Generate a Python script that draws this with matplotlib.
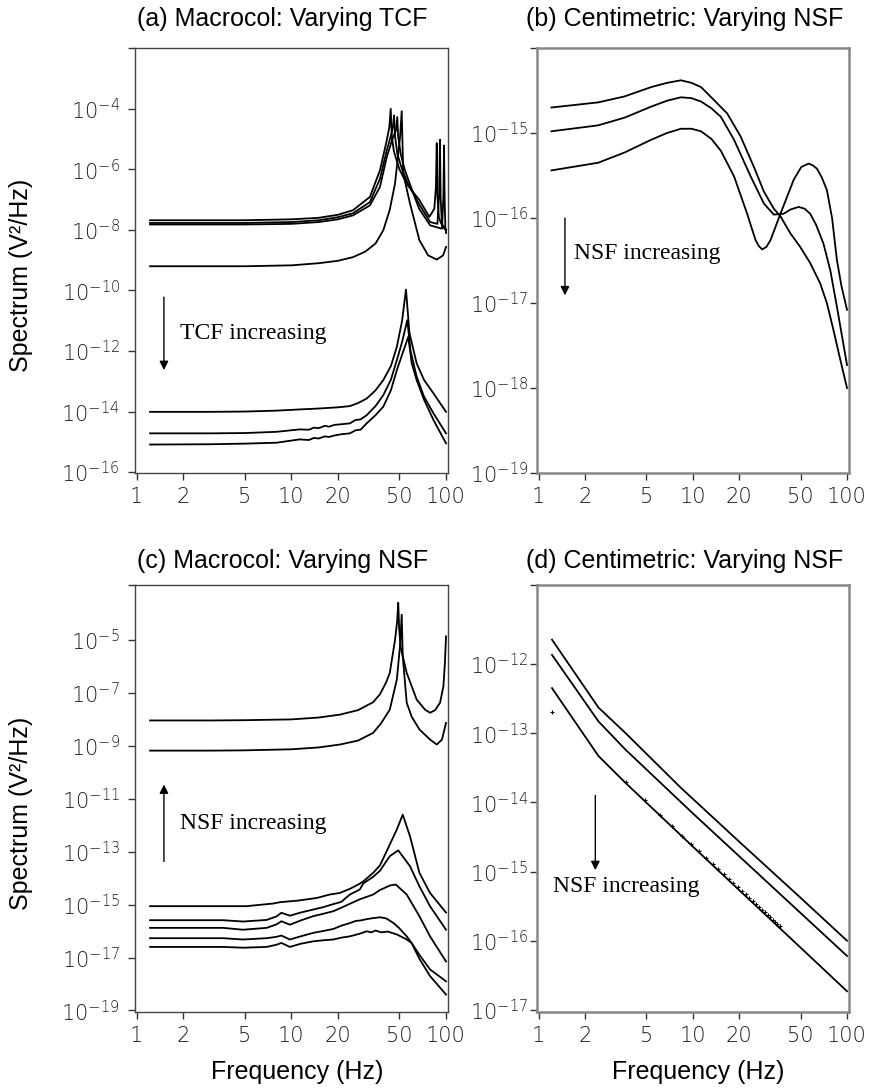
import numpy as np
import matplotlib.pyplot as plt

# ------------------------------
# Panel (a): Macrocol, varying TCF   (spectrum values are log10 V^2/Hz)
# ------------------------------
a_u1_f = [1.22, 3, 5, 10, 15, 20, 25, 32.2, 37.4, 41.4, 43.0, 43.9, 44.6, 46, 50, 56, 67, 78, 84, 86, 87.1, 88, 90, 95, 100]
a_u1_s = [-7.68, -7.68, -7.68, -7.65, -7.6, -7.5, -7.35, -6.91, -6.03, -5.04, -4.6, -4.0, -4.9, -5.4, -6.0, -6.5, -7.0, -7.57, -7.3, -6.6, -5.13, -6.9, -7.6, -7.9, -8.0]
a_u2_f = [1.22, 3, 5, 10, 15, 20, 25, 32.2, 37.4, 41.4, 44.5, 45.6, 46.1, 46.8, 48.5, 52, 57, 67, 79, 88, 90.3, 91.4, 92.3, 94, 100]
a_u2_s = [-7.77, -7.77, -7.77, -7.74, -7.68, -7.58, -7.45, -7.08, -6.31, -5.37, -4.8, -4.5, -4.22, -4.9, -5.5, -6.0, -6.5, -7.15, -7.74, -7.8, -6.8, -5.02, -6.9, -7.8, -8.0]
a_u3_f = [1.22, 3, 5, 10, 15, 20, 25, 32.2, 37.4, 41.4, 45, 47.5, 48.4, 49, 51, 54, 59, 67, 79, 94.2, 96.2, 97.1, 98, 99, 100]
a_u3_s = [-7.82, -7.82, -7.82, -7.8, -7.74, -7.65, -7.52, -7.19, -6.58, -5.59, -5.0, -4.7, -4.27, -4.9, -5.5, -6.0, -6.55, -7.3, -7.85, -7.96, -6.9, -5.21, -7.0, -7.9, -8.1]
a_u4_f = [1.22, 3, 5, 10, 15, 20, 25, 30, 35, 39.3, 43.2, 46.8, 49.1, 50.5, 51.7, 52.9, 58.5, 67.3, 76.6, 87.1, 95.8, 100]
a_u4_s = [-9.2, -9.2, -9.2, -9.17, -9.1, -9.02, -8.9, -8.72, -8.45, -8.01, -7.35, -6.47, -5.5, -4.9, -4.08, -6.14, -7.13, -8.34, -8.84, -8.98, -8.84, -8.56]

a_l1_f = [1.22, 3, 5, 8, 11.3, 15, 20, 23.9, 27, 30.7, 35, 39.3, 44, 48.1, 52, 55.1, 58, 64.6, 72, 83, 100]
a_l1_s = [-14.01, -14.01, -14.0, -13.97, -13.93, -13.9, -13.86, -13.82, -13.72, -13.57, -13.3, -12.96, -12.5, -11.86, -11.0, -9.97, -11.4, -12.41, -12.95, -13.40, -14.01]
a_l2_f = [1.22, 3, 5, 8, 11.3, 13, 14, 15, 16.5, 17.5, 19, 21, 23.9, 26, 28, 30.7, 35, 39.3, 44, 48.1, 52, 56.2, 59, 64.6, 72, 83, 100]
a_l2_s = [-14.72, -14.72, -14.71, -14.67, -14.59, -14.6, -14.53, -14.55, -14.47, -14.5, -14.44, -14.42, -14.39, -14.28, -14.26, -14.12, -13.82, -13.46, -12.95, -12.30, -11.7, -10.98, -12.0, -12.85, -13.5, -14.06, -14.72]
a_l3_f = [1.22, 3, 5, 8, 11.3, 13, 14, 15, 16.5, 17.5, 19, 21, 23.9, 26, 28, 30.7, 35, 39.3, 44, 48.1, 53, 57.0, 60, 64.6, 72, 83, 100]
a_l3_s = [-15.09, -15.08, -15.06, -15.03, -14.92, -14.94, -14.87, -14.89, -14.82, -14.84, -14.79, -14.75, -14.72, -14.62, -14.6, -14.39, -14.12, -13.84, -13.3, -12.63, -12.0, -11.53, -12.4, -12.96, -13.6, -14.28, -15.05]

# ------------------------------
# Panel (b): Centimetric, varying NSF
# ------------------------------
b_1_f = [1.21, 2.43, 3.6, 5.36, 6.8, 8.37, 9.8, 11.3, 13.5, 16.7, 20.4, 24.9, 28.9, 33.5, 37.0, 42.9, 49.7, 57.7, 67.0, 74, 81.7, 90, 100]
b_1_s = [-14.70, -14.64, -14.57, -14.46, -14.41, -14.38, -14.41, -14.46, -14.6, -14.77, -15.04, -15.40, -15.69, -15.89, -15.98, -16.18, -16.34, -16.53, -16.77, -17.0, -17.32, -17.65, -18.0]
b_2_f = [1.21, 2.43, 3.6, 5.36, 6.8, 8.37, 9.8, 11.3, 13.2, 15.2, 18.5, 23.7, 28.9, 33.5, 38.8, 43, 48.5, 53, 57.7, 63, 70.3, 78, 85.9, 100]
b_2_s = [-14.98, -14.91, -14.82, -14.69, -14.62, -14.58, -14.59, -14.63, -14.71, -14.81, -15.08, -15.51, -15.83, -15.96, -15.95, -15.9, -15.87, -15.89, -15.95, -16.08, -16.30, -16.62, -17.04, -17.73]
b_3_f = [1.21, 2.43, 3.6, 5.36, 6.8, 8.37, 9.8, 11.3, 13.2, 15.2, 18.5, 22.5, 25.5, 26.8, 28.2, 30, 31.9, 37.0, 45.1, 50.5, 56.3, 60, 63.8, 68.5, 74.0, 80, 85.9, 92, 100]
b_3_s = [-15.44, -15.35, -15.23, -15.08, -15.0, -14.95, -14.95, -14.98, -15.07, -15.21, -15.51, -15.95, -16.26, -16.33, -16.37, -16.34, -16.26, -15.95, -15.55, -15.40, -15.36, -15.38, -15.42, -15.52, -15.67, -16.0, -16.49, -16.8, -17.08]

# ------------------------------
# Panel (c): Macrocol, varying NSF
# ------------------------------
c_u1_f = [1.22, 3, 5, 10, 15, 20.6, 27, 33.8, 37.4, 41, 43.3, 46.8, 48.3, 49.1, 49.8, 51, 55.7, 64.6, 73.1, 78.8, 85, 91.5, 96.2, 98.3, 100]
c_u1_s = [-8.04, -8.04, -8.03, -8.0, -7.93, -7.82, -7.65, -7.35, -7.05, -6.6, -6.24, -5.0, -4.3, -3.59, -4.6, -5.3, -6.24, -7.25, -7.63, -7.75, -7.65, -7.37, -6.75, -5.9, -4.86]
c_u2_f = [1.22, 3, 5, 10, 15, 20.6, 27, 33.8, 38, 43.3, 48.1, 50.4, 51.7, 52.5, 55.7, 60, 67.3, 78.8, 87.1, 94.2, 100]
c_u2_s = [-9.18, -9.18, -9.17, -9.13, -9.06, -8.95, -8.8, -8.51, -8.15, -7.63, -6.49, -5.23, -4.04, -5.6, -7.37, -7.9, -8.38, -8.76, -8.95, -8.76, -8.13]

c_l1_f = [1.22, 3.62, 5.12, 7.63, 8.43, 11, 14.6, 17.7, 20.6, 24, 27.7, 29.2, 33.8, 37.4, 43.3, 48.1, 52.5, 58.5, 67.3, 78.8, 100]
c_l1_s = [-15.06, -15.06, -15.06, -14.96, -14.91, -14.85, -14.75, -14.62, -14.56, -14.4, -14.21, -14.12, -13.80, -13.52, -12.73, -12.16, -11.60, -12.42, -13.8, -14.56, -15.3]
c_l2_f = [1.22, 3.62, 4.88, 6.92, 8.0, 8.62, 9.78, 11.5, 13.8, 16, 18.7, 21, 23.9, 27.7, 29.2, 33.8, 37.4, 43.3, 49.1, 58.5, 67.3, 78.8, 100]
c_l2_s = [-15.59, -15.59, -15.64, -15.58, -15.45, -15.31, -15.42, -15.3, -15.19, -15.1, -14.98, -14.9, -14.62, -14.43, -14.2, -13.95, -13.72, -13.17, -12.95, -13.55, -14.31, -15.06, -15.95]
c_l3_f = [1.22, 3.62, 4.88, 6.92, 8.0, 8.62, 9.78, 11.5, 13.8, 16, 18.7, 21, 23.9, 27.7, 33.8, 37.4, 43.3, 47.3, 55.7, 67.3, 78.8, 100]
c_l3_s = [-15.88, -15.88, -15.95, -15.88, -15.75, -15.63, -15.76, -15.6, -15.44, -15.35, -15.25, -15.12, -14.97, -14.8, -14.62, -14.45, -14.28, -14.24, -14.62, -15.44, -16.2, -17.15]
c_l4_f = [1.22, 3.62, 4.88, 6.92, 8.0, 8.62, 9.78, 11.5, 13.8, 16, 18.7, 21, 23.9, 26, 28, 30.7, 33, 35, 37.4, 41, 45.6, 50, 55.7, 59.9, 67.3, 78.8, 100]
c_l4_s = [-16.27, -16.27, -16.32, -16.27, -16.22, -16.17, -16.32, -16.2, -16.07, -16.0, -15.92, -15.8, -15.7, -15.62, -15.6, -15.55, -15.52, -15.5, -15.48, -15.52, -15.69, -15.9, -16.2, -16.45, -17.05, -17.7, -18.4]
c_l5_f = [1.22, 3.62, 4.88, 6.92, 8.0, 8.62, 9.78, 11.5, 13.8, 16, 18.7, 21, 23.9, 27.7, 30.7, 33, 35, 38.2, 42, 48.1, 55, 59.9, 67.3, 78.8, 100]
c_l5_s = [-16.60, -16.60, -16.63, -16.6, -16.52, -16.45, -16.60, -16.48, -16.39, -16.35, -16.32, -16.25, -16.2, -16.1, -16.01, -16.05, -15.98, -16.05, -16.02, -16.13, -16.3, -16.45, -16.9, -17.45, -17.9]

# ------------------------------
# Panel (d): Centimetric, varying NSF
# ------------------------------
d_1_f = [1.22, 2.44, 3.66, 8.36, 20, 50, 100]
d_1_s = [-11.65, -12.63, -13.0, -13.79, -14.57, -15.38, -16.0]
d_2_f = [1.22, 2.44, 3.66, 10, 20, 50, 100]
d_2_s = [-11.87, -12.83, -13.24, -14.16, -14.78, -15.6, -16.22]
d_3_f = [1.22, 2.44, 3.66, 10, 20, 50, 100]
d_3_s = [-12.35, -13.33, -13.72, -14.64, -15.27, -16.1, -16.73]
d_pts_f = [1.22, 3.66, 4.88, 6.10, 7.32, 8.54, 9.76, 10.98, 12.20, 13.42, 14.64, 15.86, 17.08, 18.30,
           19.52, 20.74, 21.96, 23.18, 24.40, 25.62, 26.84, 28.06, 29.28, 30.50, 31.72, 32.94, 34.16, 35.38, 36.60]
d_pts_s = [-12.70, -13.71, -13.97, -14.18, -14.34, -14.48, -14.60, -14.71, -14.81, -14.89, -14.97, -15.04, -15.11, -15.17,
           -15.23, -15.28, -15.33, -15.38, -15.43, -15.47, -15.51, -15.55, -15.59, -15.63, -15.66, -15.70, -15.73, -15.76, -15.79]

x_ticks = [1, 2, 5, 10, 20, 50, 100]

W, H = 875, 1089
fig = plt.figure(figsize=(W / 100, H / 100), dpi=100)


def box(l, r, t, b):
    return [l / W, 1 - b / H, (r - l) / W, (b - t) / H]


def setup(ax, ylim, yexp, title, frame_col, frame_lw, ypad, tpad):
    ax.set_xscale('log')
    ax.set_yscale('log')
    ax.set_xlim(0.975, 103)
    ax.set_ylim(10.0 ** ylim[0], 10.0 ** ylim[1])
    ax.minorticks_off()
    ax.set_xticks(x_ticks, [str(t) for t in x_ticks])
    yt = [10.0 ** e for e in yexp] + [10.0 ** ylim[1]]
    yl = [r'$\mathdefault{10^{%d}}$' % e for e in yexp] + ['']
    ax.set_yticks(yt, yl)
    ax.tick_params(axis='both', direction='out', length=5, width=1, color='#333333', labelsize=15)
    ax.tick_params(axis='y', pad=ypad)
    ax.tick_params(axis='x', pad=5)
    for lab in ax.get_xticklabels() + ax.get_yticklabels():
        lab.set_fontfamily('DejaVu Sans')
        lab.set_fontweight('light')
        lab.set_color('#1a1a1a')
    for s in ax.spines.values():
        s.set_color(frame_col)
        s.set_linewidth(frame_lw)
    ax.set_title(title, fontsize=18, family='Liberation Sans', pad=tpad, x=0.472)


def draw(ax, f, s):
    ax.plot(f, 10.0 ** np.array(s), color='black', lw=1.3)


def arrow(ax, x, y_tail, y_head, text, tx, ty):
    ax.annotate('', xy=(x, 10.0 ** y_head), xytext=(x, 10.0 ** y_tail),
                arrowprops=dict(arrowstyle='-|>', color='black', lw=1.0,
                                mutation_scale=13, shrinkA=0, shrinkB=0))
    ax.text(tx, 10.0 ** ty, text, family='Liberation Serif', fontsize=17, ha='left', va='center')


# (a)
ax = fig.add_axes(box(135, 448, 48, 473))
setup(ax, (-16.03, -1.99), range(-16, -3, 2), '(a) Macrocol: Varying TCF', '#444444', 1.0, 6, 16)
for f, s in [(a_u1_f, a_u1_s), (a_u2_f, a_u2_s), (a_u3_f, a_u3_s), (a_u4_f, a_u4_s),
             (a_l1_f, a_l1_s), (a_l2_f, a_l2_s), (a_l3_f, a_l3_s)]:
    draw(ax, f, s)
arrow(ax, 1.50, -10.22, -12.63, 'TCF increasing', 1.90, -11.41)
ax.set_ylabel('Spectrum (V²/Hz)', fontsize=18, family='Liberation Sans')
ax.yaxis.set_label_coords(-0.325, 0.465)

# (b)
ax = fig.add_axes(box(537, 849, 48, 473))
setup(ax, (-19.0, -14.0), range(-19, -14), '(b) Centimetric: Varying NSF', '#888888', 1.8, 1.5, 16)
for f, s in [(b_1_f, b_1_s), (b_2_f, b_2_s), (b_3_f, b_3_s)]:
    draw(ax, f, s)
arrow(ax, 1.48, -16.0, -16.91, 'NSF increasing', 1.70, -16.42)

# (c)
ax = fig.add_axes(box(135, 448, 585, 1012))
setup(ax, (-19.06, -2.92), range(-19, -4, 2), '(c) Macrocol: Varying NSF', '#444444', 1.0, 6, 12)
for f, s in [(c_u1_f, c_u1_s), (c_u2_f, c_u2_s), (c_l1_f, c_l1_s), (c_l2_f, c_l2_s),
             (c_l3_f, c_l3_s), (c_l4_f, c_l4_s), (c_l5_f, c_l5_s)]:
    draw(ax, f, s)
arrow(ax, 1.50, -13.37, -10.46, 'NSF increasing', 1.90, -11.92)
ax.set_ylabel('Spectrum (V²/Hz)', fontsize=18, family='Liberation Sans')
ax.yaxis.set_label_coords(-0.325, 0.465)
ax.set_xlabel('Frequency (Hz)', fontsize=18, family='Liberation Sans')
ax.xaxis.set_label_coords(0.517, -0.112)

# (d)
ax = fig.add_axes(box(537, 849, 585, 1012))
setup(ax, (-17.03, -10.86), range(-17, -11), '(d) Centimetric: Varying NSF', '#888888', 1.8, 1.5, 12)
for f, s in [(d_1_f, d_1_s), (d_2_f, d_2_s), (d_3_f, d_3_s)]:
    draw(ax, f, s)
ax.plot(d_pts_f, 10.0 ** np.array(d_pts_s), linestyle='none', marker='+',
        markersize=3, markeredgewidth=0.8, color='black')
arrow(ax, 2.33, -13.90, -14.98, 'NSF increasing', 1.24, -15.21)
ax.set_xlabel('Frequency (Hz)', fontsize=18, family='Liberation Sans')
ax.xaxis.set_label_coords(0.517, -0.112)

fig.savefig('out.png', dpi=100)
